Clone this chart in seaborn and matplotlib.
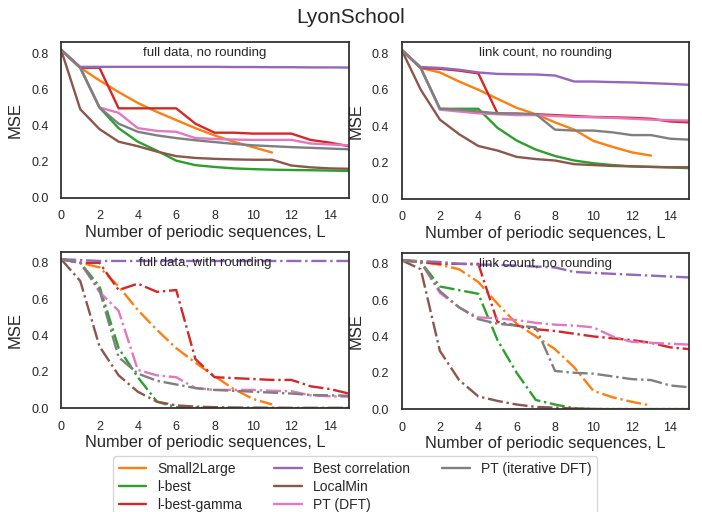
import numpy as np
import pandas as pd
import matplotlib
matplotlib.use("Agg")
import matplotlib.pyplot as plt
from matplotlib.lines import Line2D
import seaborn as sns

sns.set_theme(style="white")
plt.rcParams['font.family'] = ['Liberation Sans', 'DejaVu Sans']

methods = ["Small2Large", "l-best", "l-best-gamma", "Best correlation",
           "LocalMin", "PT (DFT)", "PT (iterative DFT)"]
colors = ["#ff7f0e", "#2ca02c", "#d62728", "#9467bd", "#8c564b", "#e377c2", "#7f7f7f"]

titles = ["full data, no rounding", "link count, no rounding",
          "full data, with rounding", "link count, no rounding"]

# Panel 1: full data, no rounding
p1 = {
    "Small2Large": [0.82, 0.72, 0.65, 0.585, 0.525, 0.475, 0.43, 0.385, 0.345, 0.31, 0.28, 0.25],
    "l-best": [0.82, 0.72, 0.50, 0.385, 0.31, 0.26, 0.205, 0.18, 0.17, 0.162, 0.158, 0.155, 0.153, 0.152, 0.15, 0.148],
    "l-best-gamma": [0.82, 0.72, 0.72, 0.495, 0.495, 0.495, 0.495, 0.41, 0.36, 0.36, 0.355, 0.355, 0.355, 0.32, 0.305, 0.285],
    "Best correlation": [0.82, 0.725, 0.725, 0.725, 0.725, 0.725, 0.725, 0.725, 0.725, 0.724, 0.724, 0.723, 0.723, 0.722, 0.722, 0.721],
    "LocalMin": [0.82, 0.49, 0.38, 0.31, 0.285, 0.255, 0.23, 0.22, 0.215, 0.212, 0.21, 0.21, 0.178, 0.168, 0.162, 0.16],
    "PT (DFT)": [0.82, 0.72, 0.50, 0.47, 0.385, 0.37, 0.365, 0.33, 0.325, 0.322, 0.32, 0.32, 0.32, 0.30, 0.295, 0.29],
    "PT (iterative DFT)": [0.82, 0.72, 0.50, 0.41, 0.365, 0.345, 0.33, 0.318, 0.308, 0.298, 0.29, 0.285, 0.28, 0.276, 0.272, 0.268],
}
# Panel 2: link count, no rounding
p2 = {
    "Small2Large": [0.82, 0.72, 0.695, 0.645, 0.60, 0.55, 0.50, 0.465, 0.42, 0.38, 0.318, 0.285, 0.255, 0.237],
    "l-best": [0.82, 0.72, 0.495, 0.495, 0.495, 0.39, 0.32, 0.27, 0.235, 0.21, 0.195, 0.185, 0.178, 0.175, 0.172, 0.168],
    "l-best-gamma": [0.82, 0.72, 0.715, 0.705, 0.69, 0.47, 0.465, 0.465, 0.46, 0.455, 0.45, 0.448, 0.445, 0.44, 0.425, 0.42],
    "Best correlation": [0.82, 0.725, 0.72, 0.71, 0.695, 0.687, 0.685, 0.684, 0.678, 0.645, 0.645, 0.642, 0.64, 0.636, 0.632, 0.627],
    "LocalMin": [0.82, 0.60, 0.435, 0.355, 0.29, 0.265, 0.23, 0.218, 0.21, 0.19, 0.185, 0.18, 0.178, 0.175, 0.173, 0.173],
    "PT (DFT)": [0.82, 0.72, 0.49, 0.48, 0.47, 0.465, 0.46, 0.46, 0.455, 0.45, 0.448, 0.445, 0.44, 0.435, 0.432, 0.43],
    "PT (iterative DFT)": [0.82, 0.72, 0.495, 0.49, 0.48, 0.47, 0.47, 0.465, 0.38, 0.375, 0.375, 0.365, 0.35, 0.35, 0.33, 0.325],
}
# Panel 3: full data, with rounding
p3 = {
    "Small2Large": [0.82, 0.80, 0.775, 0.67, 0.54, 0.43, 0.33, 0.25, 0.175, 0.105, 0.05, 0.02],
    "l-best": [0.82, 0.80, 0.67, 0.33, 0.17, 0.035, 0.005, 0.002, 0.001, 0.0, 0.0, 0.0, 0.0, 0.0, 0.0, 0.0],
    "l-best-gamma": [0.82, 0.80, 0.80, 0.65, 0.685, 0.64, 0.65, 0.27, 0.17, 0.165, 0.16, 0.155, 0.155, 0.12, 0.105, 0.08],
    "Best correlation": [0.82, 0.815, 0.81, 0.81, 0.81, 0.81, 0.81, 0.81, 0.81, 0.81, 0.81, 0.81, 0.81, 0.81, 0.81, 0.81],
    "LocalMin": [0.82, 0.70, 0.34, 0.18, 0.09, 0.035, 0.015, 0.008, 0.005, 0.003, 0.002, 0.002, 0.001, 0.001, 0.001, 0.001],
    "PT (DFT)": [0.82, 0.80, 0.64, 0.535, 0.21, 0.18, 0.17, 0.11, 0.10, 0.10, 0.10, 0.095, 0.093, 0.07, 0.065, 0.062],
    "PT (iterative DFT)": [0.82, 0.80, 0.65, 0.28, 0.19, 0.15, 0.13, 0.11, 0.10, 0.095, 0.09, 0.085, 0.08, 0.072, 0.07, 0.068],
}
# Panel 4: link count, no rounding (rounded variant)
p4 = {
    "Small2Large": [0.82, 0.81, 0.795, 0.77, 0.70, 0.58, 0.47, 0.40, 0.33, 0.23, 0.10, 0.065, 0.04, 0.02],
    "l-best": [0.82, 0.81, 0.675, 0.655, 0.635, 0.38, 0.20, 0.05, 0.025, 0.005, 0.0, 0.0, 0.0, 0.0, 0.0, 0.0],
    "l-best-gamma": [0.82, 0.81, 0.80, 0.80, 0.80, 0.48, 0.46, 0.44, 0.43, 0.415, 0.40, 0.39, 0.38, 0.365, 0.34, 0.33],
    "Best correlation": [0.82, 0.815, 0.81, 0.80, 0.795, 0.795, 0.79, 0.785, 0.78, 0.755, 0.75, 0.745, 0.74, 0.735, 0.73, 0.725],
    "LocalMin": [0.82, 0.77, 0.32, 0.16, 0.07, 0.045, 0.025, 0.012, 0.008, 0.003, 0.001, 0.0, 0.0, 0.0, 0.0, 0.0],
    "PT (DFT)": [0.82, 0.81, 0.64, 0.56, 0.505, 0.50, 0.49, 0.475, 0.465, 0.46, 0.45, 0.40, 0.37, 0.365, 0.36, 0.355],
    "PT (iterative DFT)": [0.82, 0.81, 0.65, 0.56, 0.495, 0.47, 0.46, 0.45, 0.21, 0.20, 0.195, 0.18, 0.165, 0.16, 0.13, 0.12],
}
panels = [p1, p2, p3, p4]
styles = ["-", "-", "-.", "-."]

fig = plt.figure(figsize=(7.02, 5.12), dpi=100)
positions = [[0.087, 0.614, 0.410, 0.303], [0.572, 0.612, 0.410, 0.305],
             [0.087, 0.203, 0.410, 0.305], [0.572, 0.201, 0.410, 0.305]]
axes = [fig.add_axes(p) for p in positions]

for ax, data, title, ls in zip(axes, panels, titles, styles):
    for m, c in zip(methods, colors):
        vals = data[m]
        sns.lineplot(x=np.arange(len(vals)), y=vals, ax=ax, color=c,
                     linestyle=ls, linewidth=1.7, label=m, legend=False)
    ax.set_xlim(0, 15)
    ax.set_ylim(0, 0.86)
    ax.set_xticks(np.arange(0, 16, 2))
    ax.set_yticks([0.0, 0.2, 0.4, 0.6, 0.8])
    ax.tick_params(labelsize=9, pad=3)
    ax.set_xlabel("Number of periodic sequences, L", fontsize=11.8, labelpad=2)
    ax.set_ylabel("MSE", fontsize=12, labelpad=6)
    ax.text(0.5, 0.93, title, transform=ax.transAxes, ha="center", va="center",
            fontsize=9.5)
    for s in ax.spines.values():
        s.set_linewidth(1.3)
        s.set_color("#333333")

handles, labels = axes[0].get_legend_handles_labels()
handles.append(Line2D([], [], color="white", alpha=0.0))
labels.append("")
fig.legend(handles, labels, ncol=3, loc="upper left",
           bbox_to_anchor=(113 / 702, 56 / 512), fontsize=10,
           frameon=True, columnspacing=2.3, handlelength=2.0,
           labelspacing=0.3, borderaxespad=0)

fig.suptitle("LyonSchool", fontsize=15, y=0.985)
fig.savefig("out.png", dpi=100)
